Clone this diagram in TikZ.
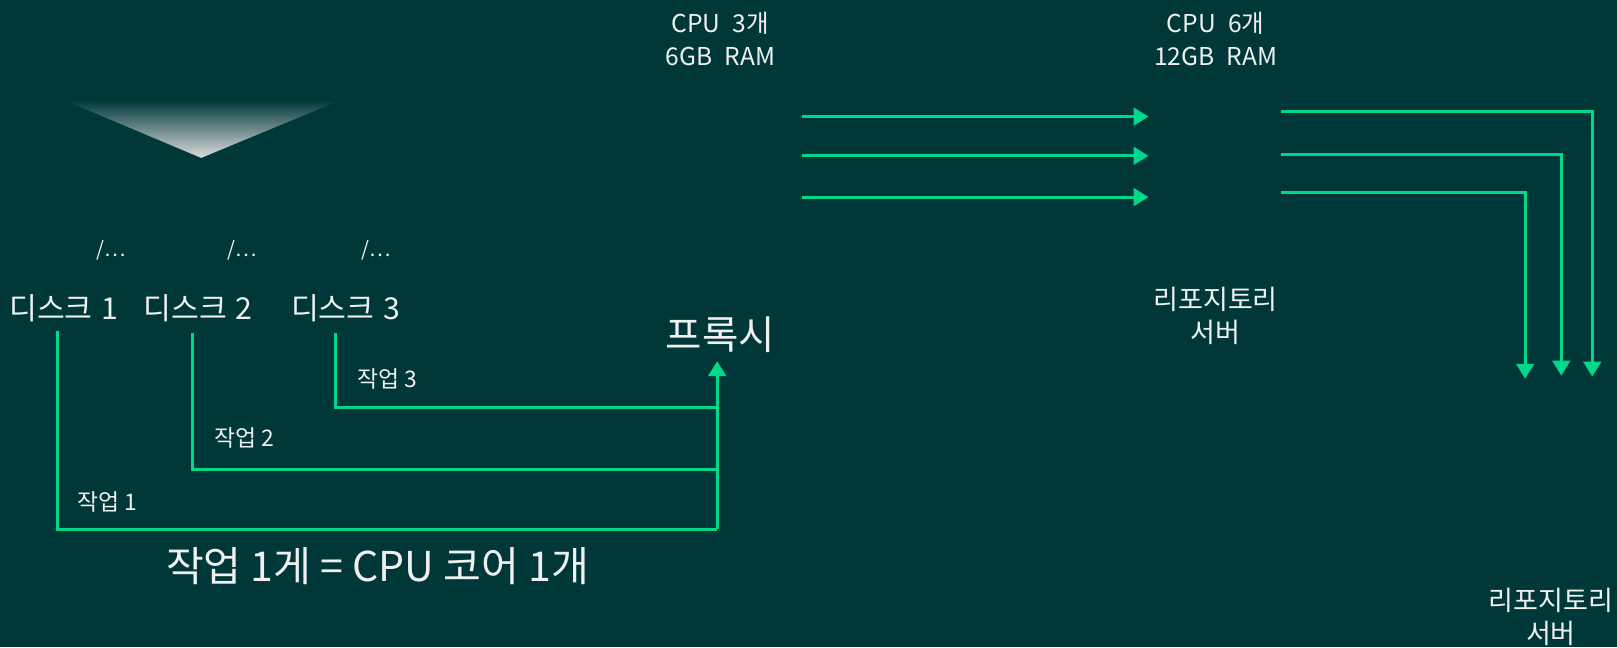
\documentclass[tikz,border=0pt]{standalone}
\usepackage{fontspec}
\setmainfont{Noto Sans CJK KR}
\usetikzlibrary{arrows.meta}
\definecolor{bgteal}{RGB}{0,56,58}
\definecolor{flowgreen}{RGB}{0,216,140}
\definecolor{txt}{RGB}{240,240,240}

\begin{document}
\begin{tikzpicture}
			[x=0.02064cm,y=-0.02064cm,
			every node/.style={text=txt,inner sep=0pt,align=center},
			flow/.style={draw=flowgreen,line width=1.7pt},
			edge/.style={flow,-{Triangle[length=8.5pt,width=10pt]}},
			disk/.style={font=\fontsize{17.2}{18}\selectfont},
			path/.style={font=\fontsize{11.5}{12}\selectfont},
			job/.style={font=\fontsize{13}{14}\selectfont},
			spec/.style={font=\fontsize{14}{18.8}\selectfont},
			repo/.style={font=\fontsize{15.4}{18.5}\selectfont}]
			\fill[bgteal] (0,0) rectangle (1567,627);
			\useasboundingbox (0,0) rectangle (1567,627);
			\shade[top color=bgteal,bottom color=white!86!black] (62,97) -- (330,97) -- (195,153) -- cycle;
			
			\node[path] (p1) at (108,243) {/…};
			\node[path] (p2) at (235,243) {/…};
			\node[path] (p3) at (365,243) {/…};
			\node[disk] (d1) at (62,299) {디스크\hspace{0.3em}1};
			\node[disk] (d2) at (192,299) {디스크\hspace{0.3em}2};
			\node[disk] (d3) at (335,299) {디스크\hspace{0.3em}3};
			\node[font=\fontsize{22.5}{24}\selectfont] (px) at (698,324) {프록시};
			\node[job] (j3) at (375,367) {작업 3};
			\node[job] (j2) at (237,424) {작업 2};
			\node[job] (j1) at (104,486) {작업 1};
			\node[font=\fontsize{23.4}{24}\selectfont] (rule) at (366,549) {작업 1게 = CPU 코어 1개};
			\node[spec] (c3) at (698,38) {CPU\enspace 3개\\6GB\enspace RAM};
			\node[spec] (c6) at (1178,38) {CPU\enspace 6개\\12GB\enspace RAM};
			\node[repo] (r1) at (1178,306) {리포지토리\\서버};
			\node[repo] (r2) at (1503,598) {리포지토리\\서버};
			
			\coordinate (s1) at (56,321);
			\coordinate (s2) at (187,323);
			\coordinate (s3) at (325,323);
			\coordinate (m1) at (695,513);
			\coordinate (m2) at (695,455);
			\coordinate (m3) at (695,395);
			\coordinate (tip) at (695,350);
			\draw[flow] (s1) |- (m1);
			\draw[flow] (s2) |- (m2);
			\draw[flow] (s3) |- (m3);
			\draw[edge] (m1) -- (tip);
			
			\foreach \i/\y in {1/113,2/151,3/191} {
				\coordinate (a\i) at (777,\y);
				\coordinate (b\i) at (1113,\y);
				\draw[edge] (a\i) -- (b\i);
			}
			\foreach \i/\y/\x/\e in {1/108/1543/365,2/150/1513/364,3/187/1478/367} {
				\coordinate (o\i) at (1241,\y);
				\coordinate (e\i) at (\x,\e);
				\draw[edge] (o\i) -| (e\i);
			}
			\end{tikzpicture}
\end{document}
